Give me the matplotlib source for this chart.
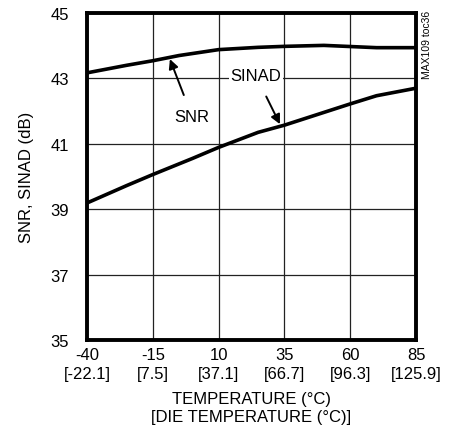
import matplotlib.pyplot as plt

plt.rcParams['font.family'] = ['Liberation Sans', 'DejaVu Sans']

# data
snr_temp = [-40, -25, -15, -5, 10, 25, 35, 50, 70, 85]
snr_db = [43.17, 43.40, 43.54, 43.70, 43.88, 43.95, 43.98, 44.01, 43.94, 43.94]
sinad_temp = [-40, -25, -15, 0, 10, 25, 35, 50, 60, 70, 85]
sinad_db = [39.19, 39.72, 40.06, 40.55, 40.89, 41.35, 41.57, 41.96, 42.22, 42.47, 42.70]

x_ticks = [-40, -15, 10, 35, 60, 85]
x_labels = ['-40\n[-22.1]', '-15\n[7.5]', '10\n[37.1]', '35\n[66.7]', '60\n[96.3]', '85\n[125.9]']
y_ticks = [35, 37, 39, 41, 43, 45]

fig = plt.figure(figsize=(4.51, 4.35), dpi=100)
ax = fig.add_axes([0.1929, 0.2161, 0.7295, 0.7517])

ax.plot(snr_temp, snr_db, color='black', linewidth=2.6, solid_capstyle='butt')
ax.plot(sinad_temp, sinad_db, color='black', linewidth=2.6, solid_capstyle='butt')

ax.set_xlim(-40, 85)
ax.set_ylim(35, 45)
ax.set_xticks(x_ticks)
ax.set_xticklabels(x_labels, fontsize=12, linespacing=1.35)
ax.set_yticks(y_ticks)
ax.set_yticklabels([str(v) for v in y_ticks], fontsize=12)
ax.tick_params(axis='x', length=0, pad=5)
ax.tick_params(axis='y', length=0, pad=13)
ax.grid(True, color='#222222', linewidth=0.9)
ax.set_axisbelow(True)
for s in ax.spines.values():
    s.set_linewidth(2.8)

ax.set_xlabel('TEMPERATURE (°C)\n[DIE TEMPERATURE (°C)]', fontsize=12, linespacing=1.3, labelpad=7)
ax.set_ylabel('SNR, SINAD (dB)', fontsize=12, labelpad=12)

# annotations
ax.annotate('SNR', xy=(-8.5, 43.59), xytext=(0, 41.82), fontsize=12, ha='center', va='center',
            arrowprops=dict(arrowstyle='-|>', color='black', lw=1.4, mutation_scale=14, shrinkA=9, shrinkB=0))
ax.annotate('SINAD', xy=(33.3, 41.6), xytext=(24.2, 43.08), fontsize=12, ha='center', va='center',
            bbox=dict(facecolor='white', edgecolor='none', pad=1.5),
            arrowprops=dict(arrowstyle='-|>', color='black', lw=1.4, mutation_scale=14, shrinkA=9, shrinkB=0))

fig.text(0.947, 0.975, 'MAX109 toc36', rotation=90, fontsize=7.5, ha='center', va='top')

fig.savefig('out.png', dpi=100)
